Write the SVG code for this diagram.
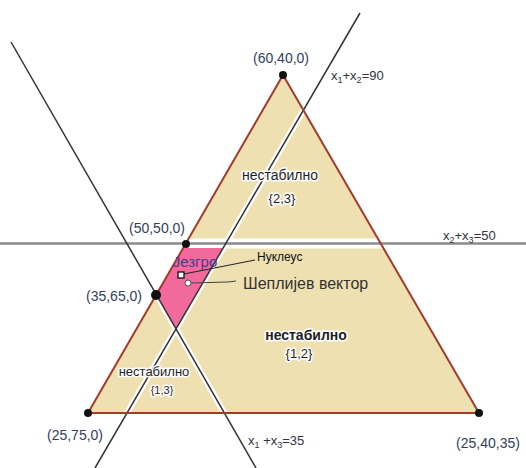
<svg xmlns="http://www.w3.org/2000/svg" width="526" height="468" viewBox="0 0 526 468">
<style>
text{font-family:"Liberation Sans",Arial,sans-serif}
.coord{font-size:14px;fill:#34405e}
.eq{font-size:13px;fill:#333340}
.sub{font-size:9px}
.reg{fill:#1e1e1e;stroke:#ffffff;stroke-width:3;paint-order:stroke;stroke-linejoin:round}
.halo{stroke:#ffffff;fill:none}
.ln{stroke:#333;stroke-width:1.5;fill:none}
.pt{fill:#111}
</style>
<rect width="526" height="468" fill="#ffffff"/>
<g id="triangle">
<polygon points="283,75 88,413 479,413" fill="#efe0b2"/>
</g>
<g id="connectors">
<line class="halo" x1="0" y1="243.5" x2="526" y2="243.5" stroke-width="10"/>
<line class="halo" x1="11" y1="42" x2="256" y2="468" stroke-width="6"/>
<line class="halo" x1="360" y1="13" x2="95" y2="468" stroke-width="6"/>
<polygon id="core" points="183.2,248 222.8,248 175.9,328.3 156.3,294.4" fill="#f26a9c"/>
<line x1="0" y1="243.5" x2="526" y2="243.5" stroke="#8a8a8a" stroke-width="2.5"/>
<line class="ln" x1="11" y1="42" x2="256" y2="468"/>
<line class="ln" x1="360" y1="13" x2="95" y2="468"/>
<polygon points="283,75 88,413 479,413" fill="none" stroke="#a33a2c" stroke-width="2" stroke-linejoin="round"/>
<line x1="184" y1="274" x2="255" y2="260" stroke="#222" stroke-width="1"/>
<polyline points="191,283 228,282 236,281" fill="none" stroke="#444" stroke-width="1"/>
</g>
<g id="p60400"><circle class="pt" cx="283" cy="75" r="4"/><text class="coord" x="281" y="63" text-anchor="middle">(60,40,0)</text></g>
<g id="p50500"><circle class="pt" cx="186" cy="244" r="4"/><text class="coord" x="157" y="233" text-anchor="middle">(50,50,0)</text></g>
<g id="p35650"><circle class="pt" cx="156" cy="295" r="5"/><text class="coord" x="114" y="301" text-anchor="middle">(35,65,0)</text></g>
<g id="p25750"><circle class="pt" cx="88" cy="413" r="4"/><text class="coord" x="75" y="440" text-anchor="middle">(25,75,0)</text></g>
<g id="p254035"><circle class="pt" cx="479" cy="413" r="4"/><text class="coord" x="488" y="448" text-anchor="middle">(25,40,35)</text></g>
<g id="eq90"><text class="eq" x="331" y="80">x<tspan class="sub" dy="3">1</tspan><tspan dy="-3">+x</tspan><tspan class="sub" dy="3">2</tspan><tspan dy="-3">=90</tspan></text></g>
<g id="eq50"><text class="eq" x="443" y="240">x<tspan class="sub" dy="3">2</tspan><tspan dy="-3">+x</tspan><tspan class="sub" dy="3">3</tspan><tspan dy="-3">=50</tspan></text></g>
<g id="eq35"><text class="eq" x="248" y="445">x<tspan class="sub" dy="3">1</tspan><tspan dy="-3"> +x</tspan><tspan class="sub" dy="3">3</tspan><tspan dy="-3">=35</tspan></text></g>
<g id="r23"><text class="reg" x="280" y="180" font-size="14" text-anchor="middle">нестабилно</text><text class="reg" x="282" y="203" font-size="13" text-anchor="middle">{2,3}</text></g>
<g id="r12"><text class="reg" x="306" y="340" font-size="14" font-weight="bold" text-anchor="middle">нестабилно</text><text class="reg" x="299" y="358" font-size="13" text-anchor="middle">{1,2}</text></g>
<g id="r13"><text class="reg" x="154" y="376" font-size="13" text-anchor="middle">нестабилно</text><text class="reg" x="162" y="394" font-size="11" text-anchor="middle">{1,3}</text></g>
<g id="jezgro"><text x="195" y="267" font-size="15" fill="#4a3a8e" text-anchor="middle">Језгро</text></g>
<g id="nucleus"><rect x="178" y="272" width="6" height="6" fill="#ffffff" stroke="#111" stroke-width="1.3"/><text x="257" y="261" font-size="12" fill="#111">Нуклеус</text></g>
<g id="shapley"><circle cx="188" cy="283" r="3" fill="#ffffff" stroke="#555" stroke-width="1"/><text x="243" y="289" font-size="16" fill="#333">Шеплијев вектор</text></g>
</svg>
